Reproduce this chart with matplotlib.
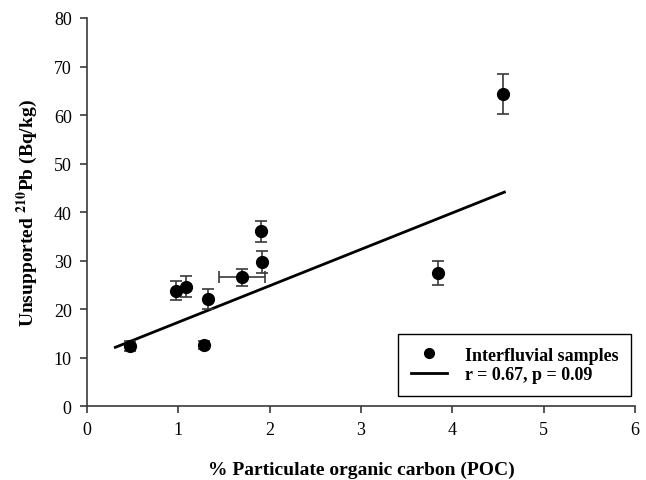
import matplotlib.pyplot as plt
from matplotlib.lines import Line2D
import numpy as np

plt.rcParams['font.family'] = 'Liberation Serif'
plt.rcParams['mathtext.fontset'] = 'stix'

# POC (%) and unsupported 210Pb (Bq/kg)
poc = [0.47, 0.97, 1.08, 1.28, 1.33, 1.70, 1.92, 1.91, 3.84, 4.56]
pb210 = [12.4, 23.8, 24.6, 12.6, 22.1, 26.5, 29.7, 36.0, 27.4, 64.3]
pb_err = [1.0, 1.9, 2.2, 0.8, 2.1, 1.8, 2.3, 2.1, 2.5, 4.1]
poc_err = [0, 0, 0, 0, 0, 0.25, 0, 0, 0, 0]

# regression line end points
fit_x = [0.31, 4.57]
fit_y = [12.1, 44.1]

fig = plt.figure(figsize=(6.46, 4.81), dpi=100)
ax = fig.add_axes([0.1347, 0.1538, 0.8483, 0.8067])

ax.errorbar(poc, pb210, yerr=pb_err, xerr=poc_err, fmt='o', color='black',
            ecolor='#3a3a3a', elinewidth=1.2, capsize=4.5, capthick=1.2,
            ms=8.5, zorder=3)
ax.plot(fit_x, fit_y, color='black', lw=2)

ax.set_xlim(0, 6)
ax.set_ylim(0, 80)
ax.set_xticks(range(0, 7))
ax.set_yticks(range(0, 81, 10))
for s in ['top', 'right']:
    ax.spines[s].set_visible(False)
for s in ['left', 'bottom']:
    ax.spines[s].set_color('#3a3a3a')
    ax.spines[s].set_linewidth(1.2)
ax.tick_params(direction='out', length=5, width=1.2, color='#3a3a3a',
               labelsize=13, pad=6)

ax.set_xlabel('% Particulate organic carbon (POC)', fontsize=14,
              fontweight='bold', labelpad=16)
ax.set_ylabel(r'Unsupported $^{\mathbf{210}}$Pb (Bq/kg)', fontsize=14,
              fontweight='bold', labelpad=10)

handles = [Line2D([], [], ls='none', marker='o', color='black', ms=7),
           Line2D([], [], color='black', lw=2)]
labels = ['Interfluvial samples', 'r = 0.67, p = 0.09']
leg = ax.legend(handles, labels, loc='lower right',
                bbox_to_anchor=(0.993, 0.026), borderaxespad=0,
                prop={'weight': 'bold', 'size': 13}, fancybox=False,
                edgecolor='black', framealpha=1, handlelength=2.0,
                borderpad=0.7, labelspacing=0.15, handletextpad=1.0)
leg.get_frame().set_linewidth(1.0)

fig.savefig('out.png', dpi=100)
